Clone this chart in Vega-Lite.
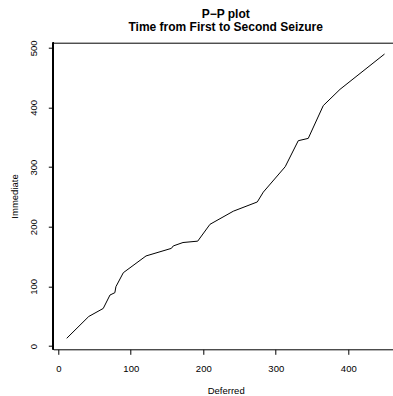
{
  "$schema": "https://vega.github.io/schema/vega-lite/v6.json",
  "width": 339.7,
  "height": 306.6,
  "autosize": {"type": "none"},
  "padding": {"left": 53.3, "top": 42.7, "right": 0, "bottom": 46.7},
  "background": "white",
  "config": {
    "font": "Liberation Sans",
    "view": {"stroke": null},
    "axis": {"grid": false, "domain": true, "domainColor": "black", "domainWidth": 1, "tickColor": "black", "tickSize": 5, "labelColor": "black", "titleColor": "black", "labelFont": "Liberation Sans", "titleFont": "Liberation Sans", "labelFontSize": 9.5, "titleFontSize": 9.5, "titleFontWeight": "normal"}
  },
  "title": {
    "text": ["P−P plot", "Time from First to Second Seizure"],
    "fontSize": 12,
    "fontWeight": "bold",
    "font": "Liberation Sans",
    "color": "black",
    "anchor": "start",
    "frame": "group",
    "dx": 172.4,
    "align": "center",
    "lineHeight": 13.5,
    "baseline": "bottom",
    "offset": -6.5
  },
  "data": {
    "values": [
      {"Deferred": 11.6, "Immediate": 12.9},
      {"Deferred": 42, "Immediate": 49.5},
      {"Deferred": 62, "Immediate": 63},
      {"Deferred": 71.3, "Immediate": 85.5},
      {"Deferred": 78, "Immediate": 89.4},
      {"Deferred": 79.5, "Immediate": 99.5},
      {"Deferred": 89.7, "Immediate": 122.9},
      {"Deferred": 121, "Immediate": 151},
      {"Deferred": 156, "Immediate": 163.7},
      {"Deferred": 158.6, "Immediate": 167.8},
      {"Deferred": 172, "Immediate": 173.5},
      {"Deferred": 192.3, "Immediate": 175.8},
      {"Deferred": 209.2, "Immediate": 204},
      {"Deferred": 241.4, "Immediate": 226},
      {"Deferred": 274.5, "Immediate": 241.5},
      {"Deferred": 282.8, "Immediate": 258},
      {"Deferred": 313, "Immediate": 300.6},
      {"Deferred": 331, "Immediate": 344.2},
      {"Deferred": 344.8, "Immediate": 348.1},
      {"Deferred": 365.5, "Immediate": 403},
      {"Deferred": 388.6, "Immediate": 430.3},
      {"Deferred": 450, "Immediate": 489.5}
    ]
  },
  "resolve": {"axis": {"x": "independent"}},
  "layer": [
    {
      "mark": {"type": "line", "color": "black", "strokeWidth": 1, "clip": true},
      "encoding": {
        "x": {
          "field": "Deferred", "type": "quantitative",
          "scale": {"domain": [-6.9, 461.7], "nice": false, "zero": false},
          "axis": {"values": [0, 100, 200, 300, 400], "labelBaseline": "alphabetic", "labelPadding": 17.4, "labelFlush": false, "labelOverlap": false, "title": "Deferred", "titleX": 172.4, "titleY": 44, "titleBaseline": "alphabetic", "titleAlign": "center"}
        },
        "y": {
          "field": "Immediate", "type": "quantitative",
          "scale": {"domain": [-5.5, 508.5], "nice": false, "zero": false},
          "axis": {"domain": false, "values": [0, 100, 200, 300, 400, 500], "labelAngle": 270, "labelAlign": "center", "labelBaseline": "alphabetic", "labelPadding": 12.3, "labelFlush": false, "labelOverlap": false, "title": "Immediate", "titleX": -36, "titleY": 153.3, "titleAngle": 270, "titleBaseline": "alphabetic", "titleAlign": "center"}
        }
      }
    },
    {
      "mark": {"type": "line", "opacity": 0, "clip": true},
      "encoding": {
        "x": {
          "field": "Deferred", "type": "quantitative",
          "axis": {"orient": "top", "labels": false, "ticks": false, "title": null, "domain": true}
        }
      }
    },
    {
      "mark": {"type": "rule", "color": "black", "strokeWidth": 1},
      "encoding": {
        "x": {"datum": -6.9, "type": "quantitative", "axis": null}
      }
    }
  ]
}
